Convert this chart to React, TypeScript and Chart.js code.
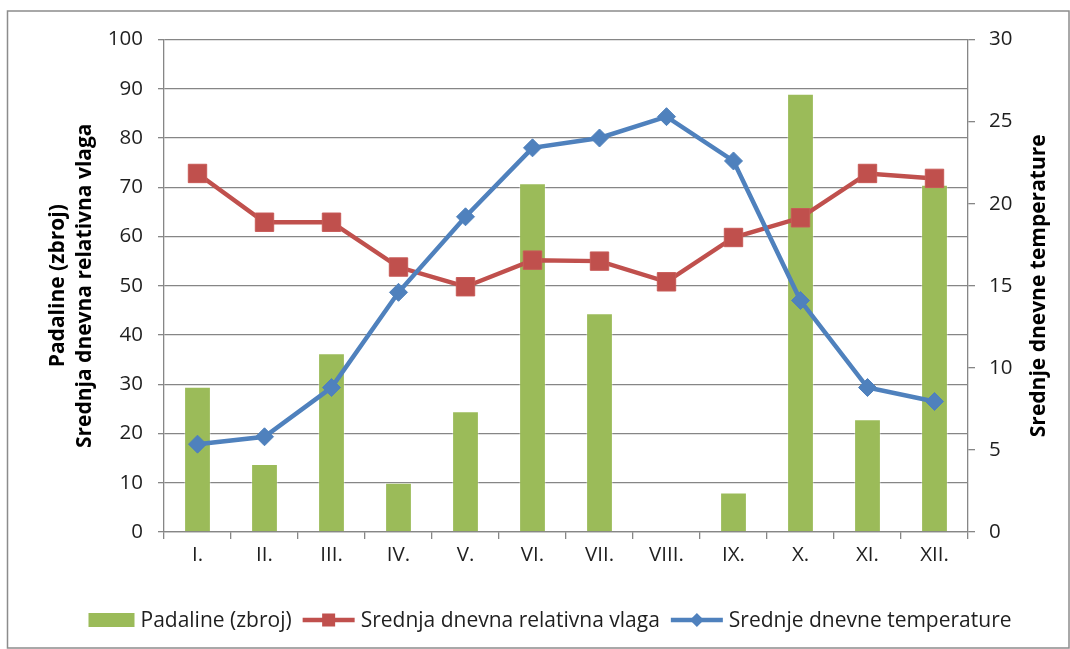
import React, { useEffect, useRef } from "react";
import { Chart, registerables } from "chart.js";

Chart.register(...registerables);

const months = ["I.", "II.", "III.", "IV.", "V.", "VI.", "VII.", "VIII.", "IX.", "X.", "XI.", "XII."];
const padaline = [29.5, 13.8, 36.3, 10.0, 24.5, 70.8, 44.4, 0, 8.0, 89.0, 22.9, 70.5];
const vlaga = [72.8, 62.9, 62.9, 53.8, 49.8, 55.2, 55.0, 50.8, 59.8, 63.8, 72.8, 71.8];
const temperatura = [5.35, 5.8, 8.8, 14.6, 19.2, 23.4, 24.0, 25.3, 22.6, 14.1, 8.8, 7.95];

const seriesNames = ["Padaline (zbroj)", "Srednja dnevna relativna vlaga", "Srednje dnevne temperature"];
const leftTitle = ["Padaline (zbroj)", "Srednja dnevna relativna vlaga"];
const rightTitle = "Srednje dnevne temperature";

const GREEN = "#9BBB59";
const RED = "#C0504D";
const BLUE = "#4F81BD";
const GRID = "#868686";
const TEXT = "#1f1f1f";
const FONT = "'Open Sans'";

export default function App() {
  const ref = useRef<HTMLCanvasElement>(null);

  useEffect(() => {
    const canvas = ref.current!;

    const decor = {
      id: "decor",
      beforeDraw(chart: any) {
        const { ctx, width, height } = chart;
        ctx.save();
        ctx.fillStyle = "#ffffff";
        ctx.fillRect(0, 0, width, height);
        ctx.strokeStyle = "#8c8c8c";
        ctx.lineWidth = 1.5;
        ctx.strokeRect(7.5, 11, width - 8.5, height - 12);
        ctx.restore();
      },
      afterDraw(chart: any) {
        const { ctx, chartArea } = chart;
        const cy = (chartArea.top + chartArea.bottom) / 2;
        ctx.save();
        ctx.fillStyle = "#000";
        ctx.font = `bold 21px ${FONT}`;
        ctx.textAlign = "center";
        ctx.textBaseline = "middle";
        const vt = (t: string, x: number) => {
          ctx.save();
          ctx.translate(x, cy);
          ctx.rotate(-Math.PI / 2);
          ctx.fillText(t, 0, 0);
          ctx.restore();
        };
        vt(leftTitle[0], 58);
        vt(leftTitle[1], 85);
        vt(rightTitle, 1039);

        // legend
        ctx.font = `21px ${FONT}`;
        ctx.textAlign = "left";
        const ds = chart.data.datasets;
        const symW = [46, 52, 52];
        const gapSym = 6;
        const gapItem = 11;
        let total = 0;
        ds.forEach((d: any, i: number) => {
          total += symW[i] + gapSym + ctx.measureText(d.label).width + (i < ds.length - 1 ? gapItem : 0);
        });
        let x = 550 - total / 2;
        const y = 620;
        ds.forEach((d: any, i: number) => {
          if (d.type === "line") {
            ctx.strokeStyle = d.borderColor;
            ctx.lineWidth = 4.5;
            ctx.beginPath();
            ctx.moveTo(x, y);
            ctx.lineTo(x + symW[i], y);
            ctx.stroke();
            const mx = x + symW[i] / 2;
            ctx.fillStyle = d.borderColor;
            if (d.pointStyle === "rect") {
              ctx.fillRect(mx - 6.5, y - 6.5, 13, 13);
            } else {
              ctx.beginPath();
              ctx.moveTo(mx, y - 7);
              ctx.lineTo(mx + 7, y);
              ctx.lineTo(mx, y + 7);
              ctx.lineTo(mx - 7, y);
              ctx.closePath();
              ctx.fill();
            }
          } else {
            ctx.fillStyle = d.backgroundColor;
            ctx.fillRect(x, y - 7, symW[i], 14);
          }
          x += symW[i] + gapSym;
          ctx.fillStyle = TEXT;
          ctx.fillText(d.label, x, y + 1);
          x += ctx.measureText(d.label).width + gapItem;
        });
        ctx.restore();
      },
    };

    const chart = new Chart(canvas, {
      type: "bar",
      data: {
        labels: months,
        datasets: [
          {
            type: "bar",
            label: seriesNames[0],
            data: padaline,
            backgroundColor: GREEN,
            borderColor: "rgba(255,255,255,0.35)",
            borderWidth: 1,
            barPercentage: 0.4,
            categoryPercentage: 1,
            yAxisID: "y",
            order: 2,
          } as any,
          {
            type: "line",
            label: seriesNames[1],
            data: vlaga,
            borderColor: RED,
            backgroundColor: RED,
            borderWidth: 4.5,
            pointStyle: "rect",
            pointRadius: 13,
            pointBorderWidth: 1,
            pointBorderColor: "#c75a57",
            pointBackgroundColor: RED,
            yAxisID: "y",
            order: 1,
          },
          {
            type: "line",
            label: seriesNames[2],
            data: temperatura,
            borderColor: BLUE,
            backgroundColor: BLUE,
            borderWidth: 4.5,
            pointStyle: "rectRot",
            pointRadius: 9,
            pointBorderWidth: 1,
            pointBorderColor: BLUE,
            pointBackgroundColor: BLUE,
            yAxisID: "y2",
            order: 0,
          },
        ],
      },
      options: {
        responsive: false,
        animation: false,
        devicePixelRatio: 1,
        layout: { padding: { top: 39.5, left: 0, right: 0, bottom: 0 } },
        plugins: {
          legend: { display: false },
          tooltip: { enabled: false },
          title: { display: false },
        },
        scales: {
          x: {
            offset: true,
            grid: {
              display: true,
              offset: true,
              drawOnChartArea: false,
              drawTicks: true,
              tickLength: 7,
              color: GRID,
              lineWidth: 1.3,
            },
            border: { display: true, color: GRID, width: 1.3 },
            ticks: { color: TEXT, font: { family: FONT, size: 20.5 }, padding: 4, maxRotation: 0, autoSkip: false },
            afterFit: (s: any) => {
              s.height = 117;
            },
          },
          y: {
            position: "left",
            min: 0,
            max: 100,
            ticks: { stepSize: 10, color: TEXT, font: { family: FONT, size: 20.5 }, padding: 15 },
            grid: { color: GRID, lineWidth: 1.3, tickLength: 6, drawTicks: true },
            border: { display: true, color: GRID, width: 1.3 },
            afterFit: (s: any) => {
              s.width = 164;
            },
          },
          y2: {
            position: "right",
            min: 0,
            max: 30,
            ticks: { stepSize: 5, color: TEXT, font: { family: FONT, size: 20.5 }, padding: 14 },
            grid: { drawOnChartArea: false, color: GRID, lineWidth: 1.3, tickLength: 7, drawTicks: true },
            border: { display: true, color: GRID, width: 1.3 },
            afterFit: (s: any) => {
              s.width = 102;
            },
          },
        },
      } as any,
      plugins: [decor],
    });

    return () => chart.destroy();
  }, []);

  return (
    <div style={{ position: "fixed", left: 0, top: 0, width: 1070, height: 649 }}>
      <canvas ref={ref} width={1070} height={649} style={{ width: 1070, height: 649, display: "block" }} />
    </div>
  );
}
